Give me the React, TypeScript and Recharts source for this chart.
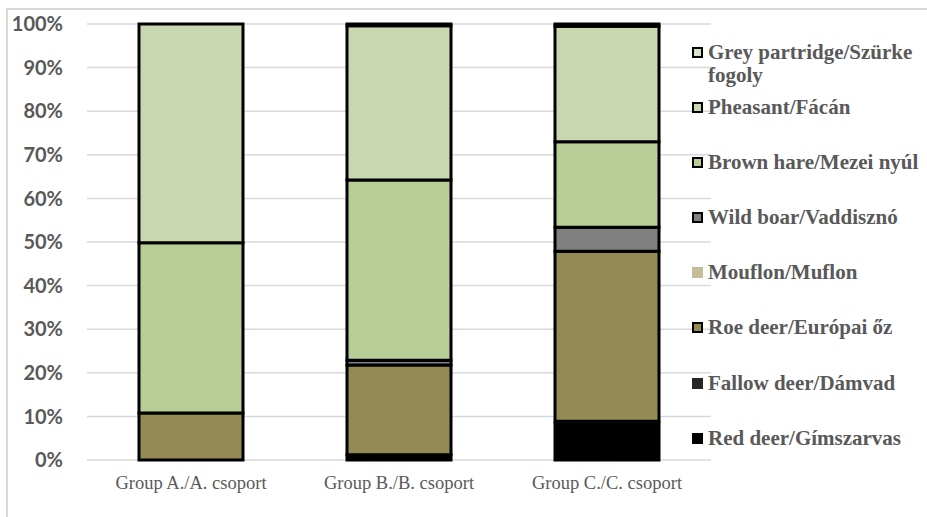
import React from "react";
import { BarChart, Bar, XAxis, YAxis, CartesianGrid } from "recharts";

// share of bag per game species (%)
const categories = ["Group A./A. csoport", "Group B./B. csoport", "Group C./C. csoport"];
const redDeer = [0, 1.2, 8.5];
const fallowDeer = [0, 0, 0.4];
const roeDeer = [10.8, 20.6, 39.0];
const mouflon = [0, 0, 0];
const wildBoar = [0, 1.1, 5.5];
const brownHare = [39.0, 41.3, 19.6];
const pheasant = [50.2, 35.4, 26.5];
const greyPartridge = [0, 0.4, 0.5];

const yTicks = [0, 10, 20, 30, 40, 50, 60, 70, 80, 90, 100];

// stack order, bottom first
const series = [
  { key: "redDeer", name: "Red deer/Gímszarvas", values: redDeer },
  { key: "fallowDeer", name: "Fallow deer/Dámvad", values: fallowDeer },
  { key: "roeDeer", name: "Roe deer/Európai őz", values: roeDeer },
  { key: "mouflon", name: "Mouflon/Muflon", values: mouflon },
  { key: "wildBoar", name: "Wild boar/Vaddisznó", values: wildBoar },
  { key: "brownHare", name: "Brown hare/Mezei nyúl", values: brownHare },
  { key: "pheasant", name: "Pheasant/Fácán", values: pheasant },
  { key: "greyPartridge", name: "Grey partridge/Szürke fogoly", values: greyPartridge },
];

const styles: Record<string, { fill: string; border: boolean }> = {
  redDeer: { fill: "#000000", border: false },
  fallowDeer: { fill: "#262626", border: false },
  roeDeer: { fill: "#948A54", border: true },
  mouflon: { fill: "#C4BD97", border: false },
  wildBoar: { fill: "#808080", border: true },
  brownHare: { fill: "#B9CD96", border: true },
  pheasant: { fill: "#C9D7B1", border: true },
  greyPartridge: { fill: "#D8E4C6", border: true },
};

const chartData = categories.map((c, i) => {
  const row: Record<string, string | number> = { name: c };
  for (const s of series) row[s.key] = s.values[i];
  return row;
});

const GRAY = "#595959";

// Excel-style legend, drawn beside the plot (top of stack listed first)
function LegendBox() {
  const items = [...series].reverse();
  return (
    <div
      style={{
        position: "absolute",
        left: 692,
        top: 40.5,
        width: 235,
        fontFamily: "'Liberation Serif', serif",
      }}
    >
      {items.map((s) => {
        const st = styles[s.key];
        return (
          <div key={s.key} style={{ height: 55.2, display: "flex", alignItems: "flex-start" }}>
            <div style={{ width: 16, height: 23, display: "flex", alignItems: "center" }}>
              <div
                style={{
                  width: 11,
                  height: 11,
                  boxSizing: "border-box",
                  background: st.fill,
                  border: st.border ? "2.5px solid #000" : "none",
                }}
              />
            </div>
            <div
              style={{
                width: 214,
                fontSize: 21,
                fontWeight: "bold",
                lineHeight: "23px",
                color: GRAY,
              }}
            >
              {s.name}
            </div>
          </div>
        );
      })}
    </div>
  );
}

export default function App() {
  return (
    <div style={{ position: "absolute", left: 0, top: 0, width: 927, height: 517, background: "#fff", overflow: "hidden" }}>
      <div
        style={{
          position: "absolute",
          left: 6,
          top: 8,
          width: 1000,
          height: 600,
          borderLeft: "2px solid #D9D9D9",
          borderTop: "2px solid #D9D9D9",
        }}
      />
      <BarChart
        width={927}
        height={517}
        data={chartData}
        margin={{ top: 24, right: 216, left: 0, bottom: 17 }}
        barCategoryGap="25%"
        style={{ position: "absolute", left: 0, top: 0 }}
      >
        <CartesianGrid vertical={false} stroke="#D9D9D9" strokeWidth={1.5} />
        <XAxis
          dataKey="name"
          axisLine={false}
          tickLine={false}
          tickSize={0}
          tickMargin={16}
          height={40}
          interval={0}
          tick={{ fontSize: 18.5, fill: GRAY, fontFamily: "'Liberation Serif', serif" }}
        />
        <YAxis
          domain={[0, 100]}
          ticks={yTicks}
          axisLine={false}
          tickLine={false}
          tickSize={0}
          tickMargin={24}
          width={87}
          tickFormatter={(v: number) => `${v}%`}
          tick={{ fontSize: 20, fill: GRAY, fontWeight: "bold", fontFamily: "Lato, sans-serif" }}
        />
        {series.map((s) => (
          <Bar
            key={s.key}
            dataKey={s.key}
            name={s.name}
            stackId="a"
            fill={styles[s.key].fill}
            stroke={styles[s.key].border || s.key === "redDeer" ? "#000" : "none"}
            strokeWidth={3}
            isAnimationActive={false}
          />
        ))}
      </BarChart>
      <LegendBox />
    </div>
  );
}
